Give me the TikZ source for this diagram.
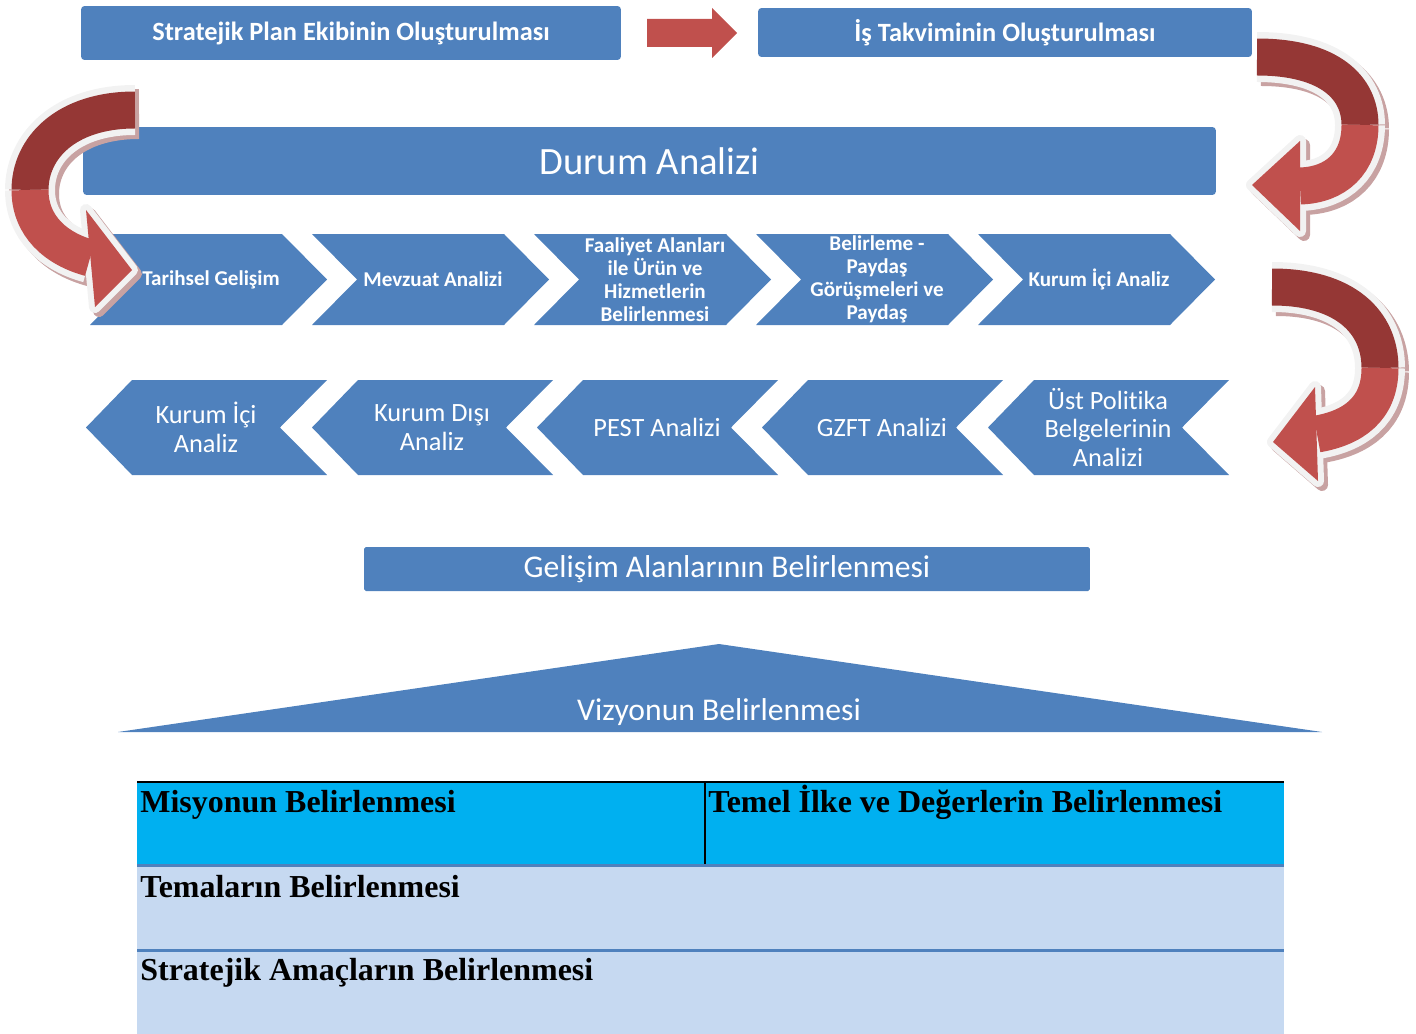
\documentclass[tikz,border=0pt]{standalone}
\usepackage{fontspec}
\setmainfont{Carlito}[Ligatures=NoCommon]
\newfontfamily\tablofont{Liberation Serif}
\definecolor{mavi}{HTML}{4F81BD}
\definecolor{kirmizi}{HTML}{C0504D}
\definecolor{koyukirmizi}{HTML}{953735}
\definecolor{golge}{HTML}{C8A2A2}
\definecolor{beyazimsi}{HTML}{F2F2F2}
\definecolor{gokmavi}{HTML}{00B0F0}
\definecolor{acikmavi}{HTML}{C6D9F1}
\tikzset{
	kutu/.style={fill=mavi, text=white, inner sep=0pt, rounded corners=2pt},
	baslik/.style={kutu, font=\bfseries\fontsize{15}{18}\selectfont},
	ustyazi/.style={text=white, align=center, inner sep=0pt, font=\bfseries\fontsize{12}{13}\selectfont},
	altyazi/.style={text=white, align=center, inner sep=0pt, font=\fontsize{15}{16.4}\selectfont},
	tablo/.style={anchor=base west, inner sep=0pt, font=\tablofont\bfseries\fontsize{18.2}{20}\selectfont}
}
% kivrik ok: koyu yol, acik yol, uc
\newcommand{\kivrikok}[3]{%
	\begin{scope}[shift={(4,4)}]
		\draw[golge, line width=1cm] #1;
		\draw[golge, line width=1cm] #2;
		\filldraw[golge, line width=0.24cm, line join=round] #3 -- cycle;
	\end{scope}
	\draw[beyazimsi, line width=1cm] #1;
	\draw[koyukirmizi, line width=0.74cm] #1;
	\draw[beyazimsi, line width=1cm] #2;
	\filldraw[beyazimsi, line width=0.24cm, line join=round] #3 -- cycle;
	\draw[kirmizi, line width=0.74cm] #2;
	\fill[kirmizi] #3 -- cycle;
}

\begin{document}
\begin{tikzpicture}[x=0.02cm, y=-0.02cm]
	\useasboundingbox (0,0) rectangle (1416,1034);
	\node[baslik, minimum width=10.8cm, minimum height=1.08cm] (ekip) at (351,33) {Stratejik Plan Ekibinin Oluşturulması};
	\node[baslik, minimum width=9.88cm, minimum height=0.98cm] (takvim) at (1005,32.5) {İş Takviminin Oluşturulması};
	\fill[kirmizi] (647,19) -- (712,19) -- (712,8) -- (737,33) -- (712,58) -- (712,47) -- (647,47) -- cycle;
	\node[kutu, minimum width=22.66cm, minimum height=1.36cm, font=\fontsize{22}{24}\selectfont] (durum) at (649.5,161) {Durum Analizi};

	\foreach \x/\ad/\yazi in {90/tarihsel/Tarihsel Gelişim, 312/mevzuat/Mevzuat Analizi, 534/faaliyet/{Faaliyet Alanları\\ile Ürün ve\\Hizmetlerin\\Belirlenmesi}, 756/paydas/{Belirleme -\\Paydaş\\Görüşmeleri ve\\Paydaş}, 978/kurumiciust/Kurum İçi Analiz}{
		\fill[mavi] (\x,234) -- (\x+192,234) -- (\x+237,279.5) -- (\x+192,325) -- (\x,325) -- (\x+45,279.5) -- cycle;
		\node[ustyazi] (\ad) at (\x+121,279.5) {\yazi};
	}
	\foreach \x/\ad/\yazi in {86/kurumici/{Kurum İçi\\Analiz}, 312/kurumdisi/{Kurum Dışı\\Analiz}, 537/pest/PEST Analizi, 762/gzft/GZFT Analizi, 988/ustpolitika/{Üst Politika\\Belgelerinin\\Analizi}}{
		\fill[mavi] (\x,427.5) -- (\x+46,380) -- (\x+241,380) -- (\x+194,427.5) -- (\x+241,475) -- (\x+46,475) -- cycle;
		\node[altyazi] (\ad) at (\x+120,427.5) {\yazi};
	}

	\node[kutu, rounded corners=1pt, minimum width=14.52cm, minimum height=0.88cm, font=\fontsize{18}{20}\selectfont] (gelisim) at (727,569) {Gelişim Alanlarının Belirlenmesi};
	\fill[mavi] (118,732) -- (719,644) -- (1322,732) -- cycle;
	\node[text=white, font=\fontsize{18}{20}\selectfont] (vizyon) at (719,712) {Vizyonun Belirlenmesi};

	% tablo
	\fill[gokmavi] (137,782) rectangle (1284,865);
	\fill[acikmavi] (137,865) rectangle (1284,1034);
	\draw[line width=0.05cm] (137,782) -- (1284,782);
	\draw[line width=0.03cm] (705,782) -- (705,865);
	\draw[mavi, line width=0.06cm] (137,865) -- (1284,865) (137,950) -- (1284,950);
	\node[tablo] (misyon) at (140,812) {Misyonun Belirlenmesi};
	\node[tablo] (ilkeler) at (708,812) {Temel İlke ve Değerlerin Belirlenmesi};
	\node[tablo] (temalar) at (140,897) {Temaların Belirlenmesi};
	\node[tablo] (amaclar) at (140,980) {Stratejik Amaçların Belirlenmesi};

	\kivrikok{(1257,57) .. controls (1330,57) and (1360,88) .. (1360,125)}{(1360,125) .. controls (1360,163) and (1336,185) .. (1300,186)}{(1300,141) -- (1252,185) -- (1300,231)}
	\kivrikok{(135,110) .. controls (66,110) and (30,148) .. (30,190)}{(30,190) .. controls (30,226) and (56,249) .. (90,258)}{(86,210) -- (132,270) -- (95,307)}
	\kivrikok{(1272,287) .. controls (1345,287) and (1380,322) .. (1380,368)}{(1380,368) .. controls (1380,410) and (1352,428) .. (1317,434)}{(1315,387) -- (1273,442) -- (1318,481)}
\end{tikzpicture}
\end{document}
